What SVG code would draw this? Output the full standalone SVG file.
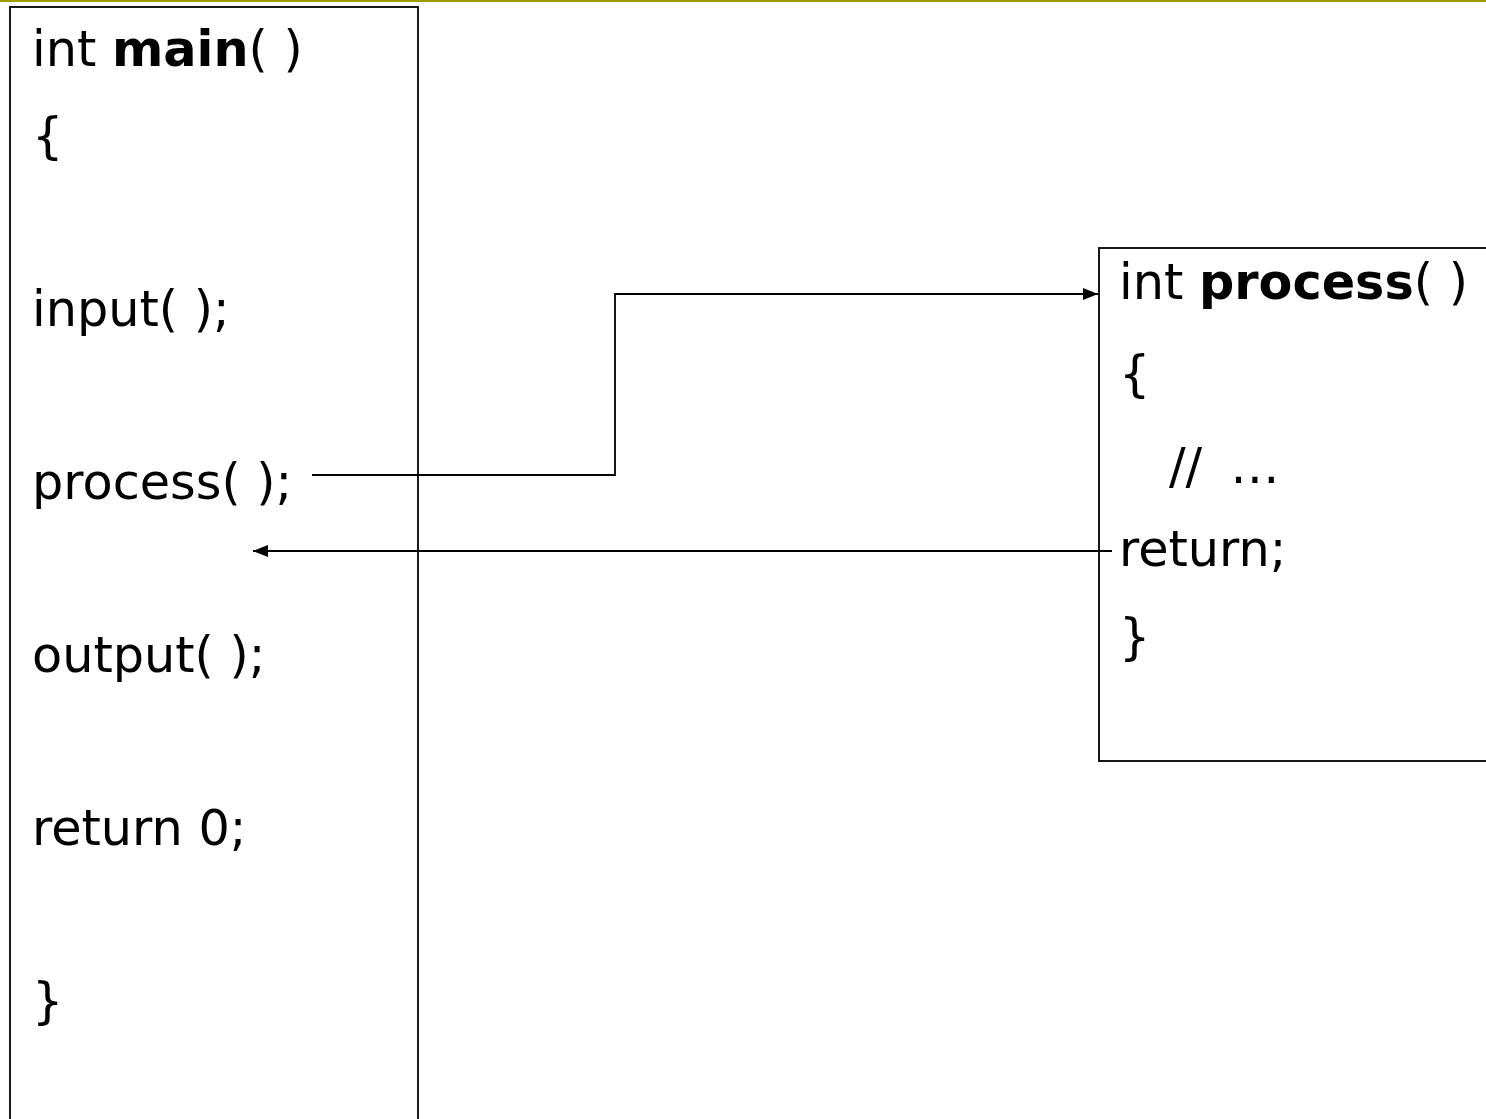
<svg xmlns="http://www.w3.org/2000/svg" width="1486" height="1119" viewBox="0 0 1486 1119">
<style>
.code{font-family:"DejaVu Sans","Verdana",sans-serif;font-size:49.3px;fill:#000}
.b{font-weight:bold}
.box{fill:#fff;stroke:#000;stroke-width:1.8}
.wire{fill:none;stroke:#000;stroke-width:1.8}
</style>
<defs>
<marker id="ah" markerUnits="userSpaceOnUse" markerWidth="16" markerHeight="12" refX="15" refY="6" orient="auto">
<path d="M0,0 L15,6 L0,12 Z" fill="#000"/>
</marker>
</defs>
<rect x="0" y="0" width="1486" height="1119" fill="#fff"/>
<rect x="0" y="0" width="1486" height="2" fill="#a09c00"/>
<g id="main">
<rect class="box" x="10" y="7" width="408" height="1130"/>
<text class="code" x="32" y="66">int <tspan class="b">main</tspan>( )</text>
<text class="code" x="32" y="153">{</text>
<text class="code" x="32" y="326">input( );</text>
<text class="code" x="32" y="499">process( );</text>
<text class="code" x="32" y="672">output( );</text>
<text class="code" x="32" y="845">return 0;</text>
<text class="code" x="32" y="1018">}</text>
</g>
<g id="process">
<rect class="box" x="1099" y="248" width="400" height="513"/>
<text class="code" x="1119" y="299">int <tspan class="b">process</tspan>( )</text>
<text class="code" x="1119" y="391">{</text>
<text class="code" x="1169" y="483">//<tspan dx="28">…</tspan></text>
<text class="code" x="1119" y="566">return;</text>
<text class="code" x="1119" y="654">}</text>
</g>
<g id="connectors">
<path class="wire" d="M312,475 H615 V294 H1098" marker-end="url(#ah)"/>
<path class="wire" d="M1112,551 H253" marker-end="url(#ah)"/>
</g>
</svg>
